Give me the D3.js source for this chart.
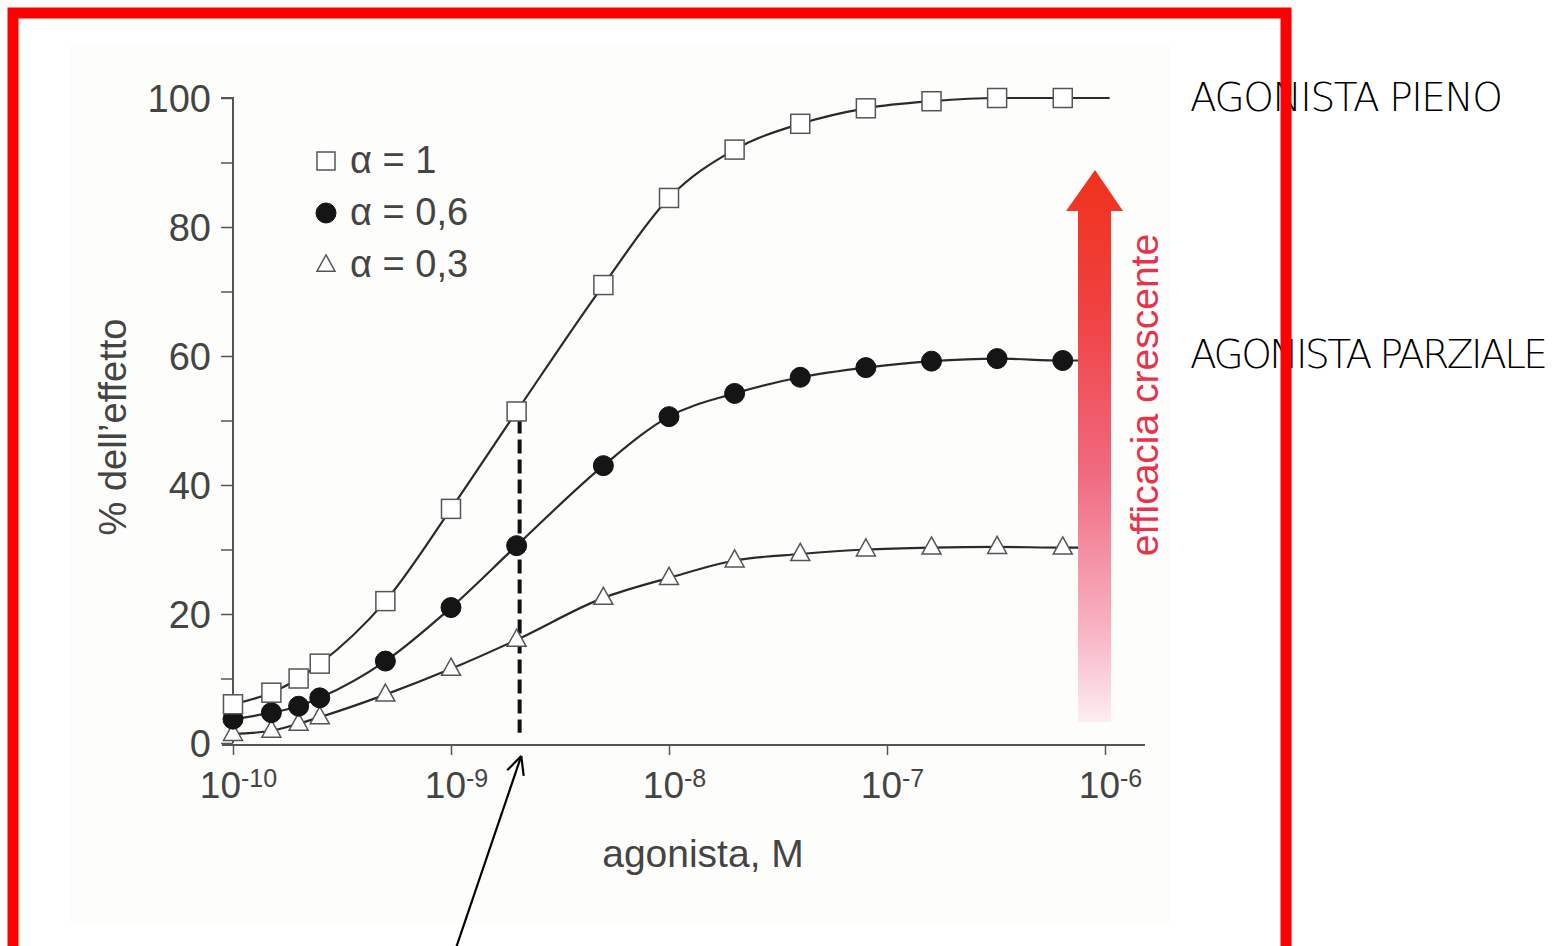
<!DOCTYPE html>
<html>
<head>
<meta charset="utf-8">
<script src="https://cdn.jsdelivr.net/npm/d3@7"></script>
<style>
  html, body { margin: 0; padding: 0; background: #fff; }
  svg { display: block; }
</style>
</head>
<body>
<svg id="chart" width="1558" height="946"></svg>
<script>
var svg = d3.select("#chart"),
    width = +svg.attr("width"),
    height = +svg.attr("height");

// concentrations (M)
var conc = [1e-10, 1.5e-10, 2e-10, 2.5e-10, 5e-10, 1e-9, 2e-9, 5e-9, 1e-8, 2e-8, 4e-8, 8e-8, 1.6e-7, 3.2e-7, 6.4e-7];

// % effect
var alpha1  = [6.0, 7.8, 10.0, 12.3, 22.0, 36.3, 51.4, 71.0, 84.5, 92.0, 96.0, 98.4, 99.5, 100, 100];
var alpha06 = [3.7, 4.7, 5.7, 7.0, 12.7, 21.0, 30.6, 43.0, 50.6, 54.2, 56.7, 58.2, 59.2, 59.6, 59.3];
var alpha03 = [1.4, 1.9, 3.0, 4.0, 7.5, 11.5, 16.0, 22.5, 25.6, 28.3, 29.3, 30.0, 30.3, 30.4, 30.3];

// where each curve line stops past its last marker
var tailConc = [1.05e-6, 7.6e-7, 7.6e-7];
var tailVal  = [100, 59.3, 30.3];

var seriesNames = ["\u03b1 = 1", "\u03b1 = 0,6", "\u03b1 = 0,3"];
var symbols = ["square", "circle", "triangle"];

var xTicks = [1e-10, 1e-9, 1e-8, 1e-7, 1e-6];
var xTickExp = ["-10", "-9", "-8", "-7", "-6"];
var yTicks = [0, 10, 20, 30, 40, 50, 60, 70, 80, 90, 100];
var yLabels = [0, 20, 40, 60, 80, 100];

var dashConc = 2e-9;
var pointerConc = 2.1e-9;

var x = d3.scaleLog().domain([1e-10, 1e-6]).range([233, 1105]);
var y = d3.scaleLinear().domain([0, 100]).range([743, 98]);

var axisColor = "#555",
    textColor = "#444",
    font = "'Liberation Sans', Arial, sans-serif";

// faint scanned paper tone
svg.append("rect")
  .attr("x", 70).attr("y", 45).attr("width", 1100).attr("height", 880)
  .attr("fill", "#fdfdfc");

// y axis
var yAxis = svg.append("g")
  .attr("transform", "translate(" + x(1e-10) + ",0)")
  .call(d3.axisLeft(y).tickValues(yTicks).tickSize(12).tickFormat(function(d) {
    return yLabels.indexOf(d) >= 0 ? d : "";
  }).tickPadding(10));
yAxis.select(".domain").attr("stroke", axisColor).attr("stroke-width", 2)
  .attr("d", "M-12," + y(100) + "H0V" + y(0));
yAxis.selectAll(".tick line").attr("stroke", axisColor).attr("stroke-width", 1.5);
yAxis.selectAll(".tick text")
  .attr("fill", textColor)
  .style("font-family", font)
  .style("font-size", "38px")
  .attr("dy", "0.36em");

// x axis
var xAxis = svg.append("g")
  .attr("transform", "translate(0," + (y(0) + 2) + ")")
  .call(d3.axisBottom(x).tickValues(xTicks).tickSize(10).tickFormat(""));
xAxis.select(".domain").attr("stroke", axisColor).attr("stroke-width", 2)
  .attr("d", "M222,0H1145");
xAxis.selectAll(".tick line").attr("stroke", axisColor).attr("stroke-width", 1.5);

var xl = xAxis.selectAll(".tick").append("text")
  .attr("y", 53)
  .attr("x", 5)
  .attr("fill", textColor)
  .attr("text-anchor", "middle")
  .style("font-family", font)
  .style("font-size", "37px");
xl.append("tspan").text("10");
xl.append("tspan")
  .attr("dy", -11)
  .style("font-size", "25px")
  .text(function(d, i) { return xTickExp[i]; });

// axis titles
svg.append("text")
  .attr("x", 703).attr("y", 867)
  .attr("text-anchor", "middle")
  .attr("fill", textColor)
  .style("font-family", font)
  .style("font-size", "39px")
  .text("agonista, M");

svg.append("text")
  .attr("transform", "translate(126,427) rotate(-90)")
  .attr("text-anchor", "middle")
  .attr("fill", textColor)
  .style("font-family", font)
  .style("font-size", "38px")
  .text("% dell\u2019effetto");

// dashed line at the EC50 of the full agonist
svg.append("line")
  .attr("x1", x(dashConc) + 3).attr("x2", x(dashConc) + 3)
  .attr("y1", y(alpha1[conc.indexOf(dashConc)]) + 8).attr("y2", y(1.6))
  .attr("stroke", "#111").attr("stroke-width", 4)
  .attr("stroke-dasharray", "14,6");

// curves
var line = d3.line()
  .x(function(d) { return x(d[0]); })
  .y(function(d) { return y(d[1]); })
  .curve(d3.curveMonotoneX);

var allSeries = [alpha1, alpha06, alpha03];

allSeries.forEach(function(vals, i) {
  var pts = conc.map(function(c, j) { return [c, vals[j]]; });
  pts.push([tailConc[i], tailVal[i]]);
  svg.append("path")
    .datum(pts)
    .attr("fill", "none")
    .attr("stroke", "#2a2a2a")
    .attr("stroke-width", 2.2)
    .attr("d", line);
});

function drawSymbol(g, type, size) {
  if (type === "square") {
    g.append("rect")
      .attr("x", -size / 2).attr("y", -size / 2)
      .attr("width", size).attr("height", size)
      .attr("fill", "#fff").attr("stroke", "#555").attr("stroke-width", 1.5);
  } else if (type === "circle") {
    g.append("circle").attr("r", size / 2)
      .attr("fill", "#151515").attr("stroke", "#111").attr("stroke-width", 1);
  } else {
    var h = size * 0.9;
    g.append("path")
      .attr("d", "M0," + (-h * 0.62) + "L" + (size / 2) + "," + (h * 0.38) + "L" + (-size / 2) + "," + (h * 0.38) + "Z")
      .attr("fill", "#fff").attr("stroke", "#555").attr("stroke-width", 1.5);
  }
}

// markers (triangles first, squares on top like the figure)
[2, 1, 0].forEach(function(i) {
  var vals = allSeries[i];
  svg.append("g").selectAll("g")
    .data(conc)
    .enter().append("g")
    .attr("transform", function(c, j) { return "translate(" + x(c) + "," + y(vals[j]) + ")"; })
    .each(function() { drawSymbol(d3.select(this), symbols[i], i === 1 ? 20 : 19); });
});

// legend
var legend = svg.append("g").attr("transform", "translate(326,161)");
seriesNames.forEach(function(name, i) {
  var g = legend.append("g").attr("transform", "translate(0," + (i * 52) + ")");
  drawSymbol(g, symbols[i], i === 1 ? 20 : 18);
  g.append("text")
    .attr("x", 24).attr("y", 12)
    .attr("fill", textColor)
    .style("font-family", font)
    .style("font-size", "38px")
    .text(name);
});

// red "efficacia crescente" arrow
var defs = svg.append("defs");
var grad = defs.append("linearGradient")
  .attr("id", "arrowGrad")
  .attr("x1", 0).attr("y1", 0).attr("x2", 0).attr("y2", 1);
grad.append("stop").attr("offset", "0%").attr("stop-color", "#f0321c");
grad.append("stop").attr("offset", "25%").attr("stop-color", "#f04040");
grad.append("stop").attr("offset", "55%").attr("stop-color", "#f06a80");
grad.append("stop").attr("offset", "85%").attr("stop-color", "#f8b8c8");
grad.append("stop").attr("offset", "100%").attr("stop-color", "#fdeef2");

svg.append("path")
  .attr("d", "M1095,170 L1123,211 L1111,211 L1111,722 L1078,722 L1078,211 L1066,211 Z")
  .attr("fill", "url(#arrowGrad)");

svg.append("text")
  .attr("transform", "translate(1158,395) rotate(-90)")
  .attr("text-anchor", "middle")
  .attr("fill", "#e6324a")
  .style("font-family", font)
  .style("font-size", "39px")
  .text("efficacia crescente");

// labels on the right
svg.append("text")
  .attr("x", 1190).attr("y", 111)
  .attr("textLength", 313)
  .attr("fill", "#000")
  .style("font-family", "'DejaVu Sans', sans-serif")
  .style("font-weight", 200)
  .style("font-size", "39px")
  .text("AGONISTA PIENO");

svg.append("text")
  .attr("x", 1190).attr("y", 368)
  .attr("textLength", 358)
  .attr("fill", "#000")
  .style("font-family", "'DejaVu Sans', sans-serif")
  .style("font-weight", 200)
  .style("font-size", "39px")
  .text("AGONISTA PARZIALE");

// pointer arrow to the EC50
var tipX = x(pointerConc), tipY = y(0) + 13;
var tailX = 456, tailY = height + 2;
svg.append("line")
  .attr("x1", tailX).attr("y1", tailY).attr("x2", tipX).attr("y2", tipY)
  .attr("stroke", "#000").attr("stroke-width", 2.2);
var ang = Math.atan2(tipY - tailY, tipX - tailX);
[-0.45, 0.45].forEach(function(da) {
  svg.append("line")
    .attr("x1", tipX).attr("y1", tipY)
    .attr("x2", tipX - 20 * Math.cos(ang + da))
    .attr("y2", tipY - 20 * Math.sin(ang + da))
    .attr("stroke", "#000").attr("stroke-width", 2.2);
});

// red frame, drawn last so it sits on top of the labels
svg.append("rect")
  .attr("x", 13).attr("y", 13)
  .attr("width", 1273).attr("height", 940)
  .attr("fill", "none")
  .attr("stroke", "#ff0000")
  .attr("stroke-width", 11);
</script>
</body>
</html>
